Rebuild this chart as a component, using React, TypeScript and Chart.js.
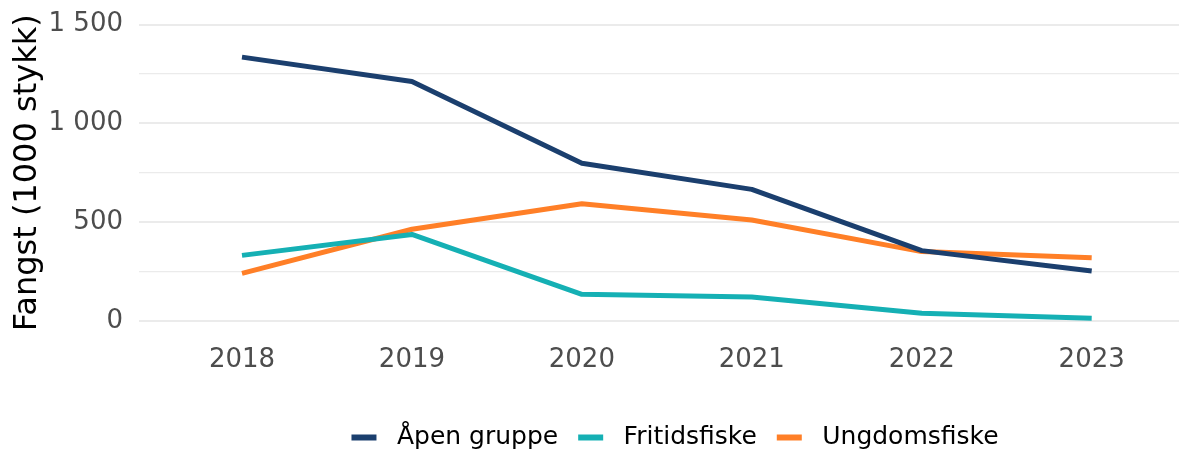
import React, { useEffect, useRef } from "react";
import { Chart, registerables } from "chart.js";

Chart.register(...registerables);

const years = [2018, 2019, 2020, 2021, 2022, 2023];
const apenGruppe = [1335, 1212, 798, 666, 356, 253];
const fritidsfiske = [332, 438, 135, 121, 39, 14];
const ungdomsfiske = [241, 464, 593, 511, 351, 320];
const yTicks = [0, 250, 500, 750, 1000, 1250, 1500];
const seriesNames = ["Åpen gruppe", "Fritidsfiske", "Ungdomsfiske"];
const seriesColors = ["#1B3F6E", "#15B0B4", "#FF7F27"];

const FONT = "'DejaVu Sans', sans-serif";

function fmt(v: number): string {
  const s = String(Math.round(v));
  return s.replace(/\B(?=(\d{3})+(?!\d))/g, " ");
}

export default function App() {
  const ref = useRef<HTMLCanvasElement | null>(null);

  useEffect(() => {
    document.body.style.margin = "0";
    document.body.style.overflow = "hidden";
    document.documentElement.style.overflow = "hidden";
    const canvas = ref.current;
    if (!canvas) return;
    const allSeries = [apenGruppe, fritidsfiske, ungdomsfiske];
    const chart = new Chart(canvas, {
      type: "line",
      data: {
        datasets: allSeries.map((vals, i) => ({
          label: seriesNames[i],
          data: years.map((yr, j) => ({ x: yr, y: vals[j] })),
          borderColor: seriesColors[i],
          backgroundColor: seriesColors[i],
          borderWidth: 5,
          borderJoinStyle: "round" as const,
          pointRadius: 0,
          pointHoverRadius: 0,
          tension: 0,
          fill: false,
        })),
      },
      options: {
        responsive: false,
        animation: false,
        layout: { padding: { top: 24.5, left: 0, right: 0, bottom: 0 } },
        plugins: {
          tooltip: { enabled: false },
          legend: {
            position: "bottom",
            labels: {
              font: { family: FONT, size: 25 },
              color: "#000000",
              boxWidth: 25,
              boxHeight: 6,
              padding: 20,
              generateLabels: (ch: any) => {
                const items = Chart.defaults.plugins.legend.labels.generateLabels(ch);
                return items.map((it: any) => ({ ...it, text: " " + it.text, lineWidth: 0 }));
              },
            },
          },
        },
        scales: {
          x: {
            type: "linear",
            min: 2017.394,
            max: 2024.52,
            afterBuildTicks: (scale: any) => {
              scale.ticks = years.map((v) => ({ value: v }));
            },
            afterFit: (scale: any) => {
              scale.height = 84;
            },
            grid: { display: false, drawTicks: false },
            border: { display: false },
            ticks: {
              font: { family: FONT, size: 26 },
              color: "#4D4D4D",
              padding: 24,
              maxRotation: 0,
              autoSkip: false,
              callback: (v: any) => String(v),
            },
          },
          y: {
            type: "linear",
            min: 0,
            max: 1500,
            afterBuildTicks: (scale: any) => {
              scale.ticks = yTicks.map((v) => ({ value: v }));
            },
            afterFit: (scale: any) => {
              scale.width = 139;
              scale.paddingTop = 0;
              scale.paddingBottom = 0;
            },
            grid: {
              drawTicks: false,
              color: "#EBEBEB",
              lineWidth: (ctx: any) => (ctx.tick && ctx.tick.value % 500 === 0 ? 2 : 1.3),
            },
            border: { display: false },
            ticks: {
              font: { family: FONT, size: 26 },
              color: "#4D4D4D",
              padding: 16,
              autoSkip: false,
              callback: (v: any) => (Number(v) % 500 === 0 ? fmt(Number(v)) : ""),
            },
            title: {
              display: true,
              text: "Fangst (1000 stykk)",
              font: { family: FONT, size: 32 },
              color: "#000000",
              padding: { top: 8, bottom: 0 },
            },
          },
        },
      },
    });
    return () => chart.destroy();
  }, []);

  return (
    <div style={{ width: 1179, height: 450, overflow: "hidden", position: "relative" }}>
      <canvas ref={ref} width={1350} height={460} style={{ display: "block", width: 1350, height: 460 }} />
    </div>
  );
}
